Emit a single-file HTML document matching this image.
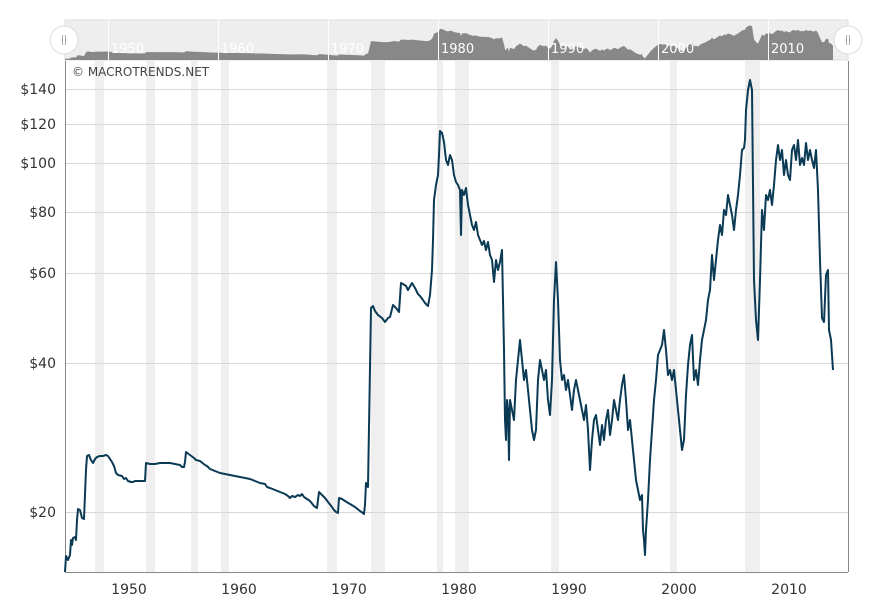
<!DOCTYPE html>
<html><head><style>
html,body{margin:0;padding:0;background:#fff;}
svg text{font-family:"DejaVu Sans","Liberation Sans",sans-serif;}
</style></head><body>
<svg width="882" height="606" xmlns="http://www.w3.org/2000/svg">
<defs>
<clipPath id="nc"><rect x="65" y="20" width="783" height="40"/></clipPath>
<polyline id="d" points="65,572 66,556 68,560 70,555 71,540 72,545 73,538 75,537 76,540 77,520 78,509 80,510 82,518 84,519 86,470 87,456 89,455 91,460 93,463 95,459 97,457 100,456 103,456 106,455 108,456 110,459 112,462 114,466 116,473 118,475 122,476 124,479 126,478 128,481 131,482 133,482 135,481 137,481 139,481 145,481 146,463 150,464 155,464 160,463 165,463 170,463 175,464 180,465 182,467 184,467 185,462 186,452 190,455 194,458 196,460 200,461 205,465 207,466 210,469 215,471 220,473 225,474 230,475 235,476 240,477 245,478 250,479 255,481 260,483 265,484 267,487 270,488 275,490 280,492 285,494 288,496 290,498 292,496 295,497 298,495 300,496 302,494 304,497 307,499 310,501 314,506 317,508 319,492 322,495 325,498 328,502 332,507 334,510 336,512 338,513 339,498 342,499 345,501 350,504 355,507 360,511 363,513 364,514 365,505 366,483 368,487 371,308 373,306 375,311 378,315 382,318 385,322 388,318 390,317 393,305 396,308 399,312 401,283 403,284 406,286 408,290 412,283 415,288 418,294 420,296 423,300 425,303 428,306 430,295 432,270 433,240 434,200 436,185 438,175 439,155 440,131 442,133 444,142 446,160 448,165 450,155 452,160 454,175 456,182 458,185 460,190 461,235 462,190 464,195 466,188 468,205 470,215 472,225 474,230 476,222 478,235 480,240 482,245 484,241 486,250 488,242 490,255 492,260 494,282 496,260 498,270 500,262 502,250 504,350 505,420 506,440 507,400 508,410 509,460 510,400 512,410 514,420 516,380 518,360 520,340 522,360 524,380 526,370 528,390 530,410 532,430 534,440 536,430 538,380 540,360 542,370 544,380 546,370 548,400 550,415 552,380 554,300 556,262 558,300 560,360 562,380 564,375 566,390 568,380 570,395 572,410 574,390 576,380 578,390 580,400 582,410 584,420 586,405 588,430 590,470 592,440 594,420 596,415 598,430 600,445 602,425 604,440 606,420 608,410 610,435 612,420 614,400 616,410 618,420 620,400 622,385 624,375 626,400 628,430 630,420 632,440 634,460 636,480 638,490 640,500 642,495 643,530 644,540 645,555 646,530 648,500 650,460 652,430 654,400 656,380 658,355 660,350 662,345 664,330 666,350 668,375 670,370 672,380 674,370 676,390 678,410 680,430 682,450 684,440 686,395 688,365 690,345 692,335 694,380 696,370 698,385 700,360 702,340 704,330 706,320 708,300 710,290 712,255 714,280 716,260 718,240 720,225 722,235 724,210 726,215 728,195 730,205 732,215 734,230 736,210 738,195 740,175 742,150 744,148 745,140 746,110 748,90 750,80 752,90 754,280 756,320 758,340 760,280 762,210 764,230 766,195 768,200 770,190 772,205 774,185 776,160 778,145 780,160 782,150 784,175 786,160 788,175 790,180 792,150 794,145 796,160 798,140 800,165 802,158 804,165 806,143 808,160 810,150 812,160 814,168 816,150 818,190 820,260 822,318 824,322 826,275 828,270 829,330 831,340 833,370"/>
</defs>
<!-- navigator -->
<rect x="65" y="20" width="783" height="40" fill="#eeeeee" stroke="#dddddd"/>
<g clip-path="url(#nc)">
<g transform="translate(0,29) scale(1,0.0695) translate(0,-131)">
<polygon points="65,800 65,572 66,556 68,560 70,555 71,540 72,545 73,538 75,537 76,540 77,520 78,509 80,510 82,518 84,519 86,470 87,456 89,455 91,460 93,463 95,459 97,457 100,456 103,456 106,455 108,456 110,459 112,462 114,466 116,473 118,475 122,476 124,479 126,478 128,481 131,482 133,482 135,481 137,481 139,481 145,481 146,463 150,464 155,464 160,463 165,463 170,463 175,464 180,465 182,467 184,467 185,462 186,452 190,455 194,458 196,460 200,461 205,465 207,466 210,469 215,471 220,473 225,474 230,475 235,476 240,477 245,478 250,479 255,481 260,483 265,484 267,487 270,488 275,490 280,492 285,494 288,496 290,498 292,496 295,497 298,495 300,496 302,494 304,497 307,499 310,501 314,506 317,508 319,492 322,495 325,498 328,502 332,507 334,510 336,512 338,513 339,498 342,499 345,501 350,504 355,507 360,511 363,513 364,514 365,505 366,483 368,487 371,308 373,306 375,311 378,315 382,318 385,322 388,318 390,317 393,305 396,308 399,312 401,283 403,284 406,286 408,290 412,283 415,288 418,294 420,296 423,300 425,303 428,306 430,295 432,270 433,240 434,200 436,185 438,175 439,155 440,131 442,133 444,142 446,160 448,165 450,155 452,160 454,175 456,182 458,185 460,190 461,235 462,190 464,195 466,188 468,205 470,215 472,225 474,230 476,222 478,235 480,240 482,245 484,241 486,250 488,242 490,255 492,260 494,282 496,260 498,270 500,262 502,250 504,350 505,420 506,440 507,400 508,410 509,460 510,400 512,410 514,420 516,380 518,360 520,340 522,360 524,380 526,370 528,390 530,410 532,430 534,440 536,430 538,380 540,360 542,370 544,380 546,370 548,400 550,415 552,380 554,300 556,262 558,300 560,360 562,380 564,375 566,390 568,380 570,395 572,410 574,390 576,380 578,390 580,400 582,410 584,420 586,405 588,430 590,470 592,440 594,420 596,415 598,430 600,445 602,425 604,440 606,420 608,410 610,435 612,420 614,400 616,410 618,420 620,400 622,385 624,375 626,400 628,430 630,420 632,440 634,460 636,480 638,490 640,500 642,495 643,530 644,540 645,555 646,530 648,500 650,460 652,430 654,400 656,380 658,355 660,350 662,345 664,330 666,350 668,375 670,370 672,380 674,370 676,390 678,410 680,430 682,450 684,440 686,395 688,365 690,345 692,335 694,380 696,370 698,385 700,360 702,340 704,330 706,320 708,300 710,290 712,255 714,280 716,260 718,240 720,225 722,235 724,210 726,215 728,195 730,205 732,215 734,230 736,210 738,195 740,175 742,150 744,148 745,140 746,110 748,90 750,80 752,90 754,280 756,320 758,340 760,280 762,210 764,230 766,195 768,200 770,190 772,205 774,185 776,160 778,145 780,160 782,150 784,175 786,160 788,175 790,180 792,150 794,145 796,160 798,140 800,165 802,158 804,165 806,143 808,160 810,150 812,160 814,168 816,150 818,190 820,260 822,318 824,322 826,275 828,270 829,330 831,340 833,370 833,800" fill="#888888"/>
</g>
</g>
<g stroke="#ffffff" stroke-width="1">
<line x1="108.5" y1="20" x2="108.5" y2="60"/><line x1="218.5" y1="20" x2="218.5" y2="60"/><line x1="328.5" y1="20" x2="328.5" y2="60"/><line x1="438.5" y1="20" x2="438.5" y2="60"/><line x1="548.5" y1="20" x2="548.5" y2="60"/><line x1="658.5" y1="20" x2="658.5" y2="60"/><line x1="768.5" y1="20" x2="768.5" y2="60"/>
</g>
<g fill="#ffffff" font-size="13">
<text x="111" y="53">1950</text><text x="221" y="53">1960</text><text x="331" y="53">1970</text><text x="441" y="53">1980</text><text x="551" y="53">1990</text><text x="661" y="53">2000</text><text x="771" y="53">2010</text>
</g>
<!-- recessions -->
<g fill="#efefef">
<rect x="95" y="61" width="9" height="511"/><rect x="146" y="61" width="9" height="511"/><rect x="191" y="61" width="7" height="511"/><rect x="221" y="61" width="8" height="511"/><rect x="327" y="61" width="10" height="511"/><rect x="371" y="61" width="14" height="511"/><rect x="437" y="61" width="6" height="511"/><rect x="455" y="61" width="14" height="511"/><rect x="551" y="61" width="8" height="511"/><rect x="670" y="61" width="7" height="511"/><rect x="745" y="61" width="15" height="511"/>
</g>
<!-- grid -->
<g stroke="#d8d8d8" stroke-width="1">
<line x1="65" y1="89.5" x2="848" y2="89.5"/><line x1="65" y1="124.5" x2="848" y2="124.5"/><line x1="65" y1="163.5" x2="848" y2="163.5"/><line x1="65" y1="212.5" x2="848" y2="212.5"/><line x1="65" y1="273.5" x2="848" y2="273.5"/><line x1="65" y1="363.5" x2="848" y2="363.5"/><line x1="65" y1="512.5" x2="848" y2="512.5"/>
</g>
<g font-size="14" fill="#333" text-anchor="end">
<text x="56" y="94">$140</text><text x="56" y="129">$120</text><text x="56" y="168">$100</text><text x="56" y="217">$80</text><text x="56" y="278">$60</text><text x="56" y="368">$40</text><text x="56" y="517">$20</text>
</g>
<line x1="65.5" y1="61" x2="65.5" y2="572" stroke="#888"/>
<line x1="848.5" y1="61" x2="848.5" y2="572" stroke="#888"/>
<line x1="65" y1="572.5" x2="848" y2="572.5" stroke="#888"/>
<g font-size="14" fill="#333" text-anchor="middle">
<text x="129" y="594">1950</text><text x="239" y="594">1960</text><text x="349" y="594">1970</text><text x="459" y="594">1980</text><text x="569" y="594">1990</text><text x="679" y="594">2000</text><text x="789" y="594">2010</text>
</g>
<text x="72" y="76" font-size="12" fill="#444">© MACROTRENDS.NET</text>
<use href="#d" fill="none" stroke="#0b3a55" stroke-width="2" stroke-linejoin="round"/>
<!-- handles -->
<circle cx="64" cy="40" r="14" fill="#fff" stroke="#ddd"/>
<circle cx="848" cy="40" r="14" fill="#fff" stroke="#ddd"/>
<g stroke="#aaa"><line x1="62.5" y1="35" x2="62.5" y2="45"/><line x1="65.5" y1="35" x2="65.5" y2="45"/><line x1="846.5" y1="35" x2="846.5" y2="45"/><line x1="849.5" y1="35" x2="849.5" y2="45"/></g>
</svg>
</body></html>
